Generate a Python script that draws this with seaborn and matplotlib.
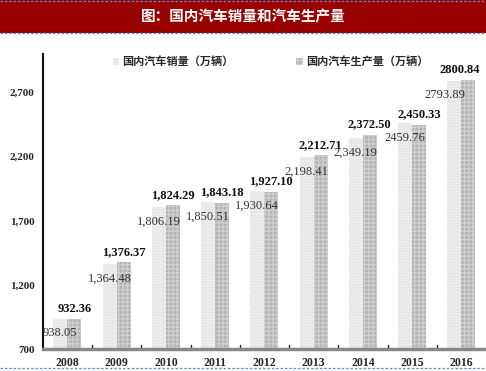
import pandas as pd
import seaborn as sns
import matplotlib.pyplot as plt
from matplotlib.lines import Line2D
from matplotlib.patches import Rectangle, Patch

# data
years = ["2008", "2009", "2010", "2011", "2012", "2013", "2014", "2015", "2016"]
sales = [938.05, 1364.48, 1806.19, 1850.51, 1930.64, 2198.41, 2349.19, 2459.76, 2793.89]
production = [932.36, 1376.37, 1824.29, 1843.18, 1927.10, 2212.71, 2372.50, 2450.33, 2800.84]
sales_labels = ["938.05", "1,364.48", "1,806.19", "1,850.51", "1,930.64", "2,198.41",
                "2,349.19", "2459.76", "2793.89"]
prod_labels = ["932.36", "1,376.37", "1,824.29", "1,843.18", "1,927.10", "2,212.71",
               "2,372.50", "2,450.33", "2800.84"]
series = ["国内汽车销量（万辆）", "国内汽车生产量（万辆）"]
yticks = [700, 1200, 1700, 2200, 2700]

df = pd.DataFrame({
    "year": years * 2,
    "value": sales + production,
    "series": [series[0]] * len(years) + [series[1]] * len(years),
})

sns.set_style("white")
plt.rcParams["font.family"] = ["Liberation Serif", "Noto Sans CJK SC"]

fig = plt.figure(figsize=(4.86, 3.71), dpi=100)
ax = fig.add_axes([0.088, 0.059, 0.912, 0.795])

colors = ["#e4e4e4", "#b4b4b4"]
sns.barplot(data=df, x="year", y="value", hue="series", palette=colors,
            width=0.57, ax=ax, legend=False, saturation=1)
hatches = ["......", "++++"]
for cont, h, ec in zip(ax.containers, hatches, ["#f6f6f6", "#cfcfcf"]):
    for p in cont:
        p.set_hatch(h)
        p.set_edgecolor(ec)
        p.set_linewidth(0)

s_txt = ax.bar_label(ax.containers[0], labels=sales_labels, padding=-15, fontsize=9,
                     color="#333333")
p_txt = ax.bar_label(ax.containers[1], labels=prod_labels, padding=3, fontsize=9,
                     fontweight="bold", color="#111111")
# shift labels a bit left like the original
for t in ax.texts:
    x, y = t.get_position()
    t.set_position((x - 0.08, y))
# the last pair sits further left so it stays inside the picture
for t, xr in [(s_txt[-1], 7.84), (p_txt[-1], 8.1)]:
    x, y = t.get_position()
    t.set_position((xr, y))
    t.set_ha("right")

ax.set_ylim(700, 3000)
ax.set_xlim(-0.5, 8.5)
ax.set_yticks(yticks)
ax.set_yticklabels([f"{v:,}" for v in yticks], fontsize=8, fontweight="bold")
ax.set_xticks(range(len(years)))
ax.set_xticklabels(years, fontsize=8.5, fontweight="bold")
ax.set_xlabel("")
ax.set_ylabel("")
ax.tick_params(axis="y", direction="in", length=3, width=0.8, pad=6)
ax.tick_params(axis="x", length=0, pad=6)
for x in range(1, len(years)):
    ax.plot([x - 0.5, x - 0.5], [700, 730], color="#222222", lw=1, clip_on=False)

sns.despine(ax=ax, top=True, right=True)
ax.spines["left"].set_color("#111111")
ax.spines["left"].set_linewidth(1.5)
ax.spines["bottom"].set_color("#888888")
ax.spines["bottom"].set_linewidth(2.5)

handles = [Patch(facecolor=colors[0], hatch="......", edgecolor="#f6f6f6", lw=0),
           Patch(facecolor=colors[1], hatch="++++", edgecolor="#cfcfcf", lw=0)]
leg = ax.legend(handles, series, loc="upper left", bbox_to_anchor=(0.135, 1.03),
                ncol=2, frameon=False, handlelength=0.6, handleheight=0.6,
                handletextpad=0.3, columnspacing=5.6,
                prop={"family": ["Noto Sans CJK SC"], "size": 8, "weight": "bold"})

# title bar
fig.patches.append(Rectangle((0, 0.91), 1, 0.09, transform=fig.transFigure,
                             facecolor="#990000", edgecolor="none", zorder=0))
for yy in [0.998, 0.91, 0.008]:
    fig.add_artist(Line2D([0, 1], [yy, yy], transform=fig.transFigure,
                          color="#5b8bd6", lw=0.9, ls=(0, (2, 1.5))))
fig.text(0.5, 0.955, "图：国内汽车销量和汽车生产量", ha="center", va="center",
         color="white", fontsize=10.5, fontweight="bold",
         family=["Noto Sans CJK SC"])

fig.savefig("out.png", dpi=100)
